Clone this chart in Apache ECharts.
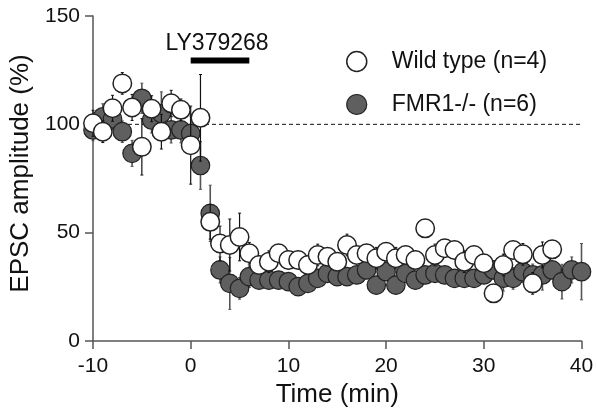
<!DOCTYPE html>
<html>
<head>
<meta charset="utf-8">
<script src="https://cdn.jsdelivr.net/npm/echarts@6/dist/echarts.min.js"></script>
<style>
html,body{margin:0;padding:0;background:#fff;}
#chart{width:597px;height:419px;}
</style>
</head>
<body>
<div id="chart"></div>
<script>
// ---- data ----
var timeMin = [-10,-9,-8,-7,-6,-5,-4,-3,-2,-1,0,1,2,3,4,5,6,7,8,9,10,11,12,13,14,15,16,17,18,19,20,21,22,23,24,25,26,27,28,29,30,31,32,33,34,35,36,37,38,39,40];
var wildType = [100.5,96.6,107.4,118.9,107.8,89.6,107.2,96.6,109.7,106.7,90.4,103,55,45,44.3,48,40.5,35.1,36.6,40.5,37.4,37.4,35.1,39.7,38.9,36.6,44.3,39.7,40.5,38.2,41.2,38.2,39.7,37.4,52,39.7,42.8,42,36.6,39.7,35.9,22,35.1,42,40,26.6,39.7,42.3,null,null,null];
var wildTypeErr = [6,5,6,5,6,13,6,8,6,5,18,20,8,8,12,11,5,4,5,4,4,4,4,5,4,4,5,4,4,5,4,5,4,4,4,5,4,4,5,4,4,4,5,4,5,5,6,4,null,null,null];
var fmr1 = [97.4,103.5,102.5,96.6,86.6,112,102,105,97.4,97.4,95.8,81,58.9,32.8,26.6,24.3,29.7,28.1,28.1,28.1,27.4,25.1,26.6,28.9,31.2,29.7,29.7,30.5,32.8,25.8,32,25.8,31.2,28.1,30.5,31.2,30.5,28.9,28.9,28.9,30.5,32.8,29,28.9,32,30.5,30.5,32.8,27.4,32.8,32];
var fmr1Err = [5,6,5,5,6,7,6,10,6,6,8,11,13,6,12,5,5,4,4,4,4,4,4,4,4,4,4,4,4,4,4,4,4,4,4,4,4,4,4,4,4,4,6,5,5,5,7,4,8,6,13];
var xTicks = {min: -10, max: 40, interval: 10};
var yTicks = {min: 0, max: 150, interval: 50};
var baselineLevel = 100;
var drugName = 'LY379268';
var drugStart = 0, drugEnd = 6, drugLevel = 129.5;
var seriesNames = ['Wild type (n=4)', 'FMR1-/- (n=6)'];

function pairs(vals){
  var out = [];
  for (var i = 0; i < timeMin.length; i++) if (vals[i] != null) out.push([timeMin[i], vals[i]]);
  return out;
}
function errPairs(vals, errs){
  var out = [];
  for (var i = 0; i < timeMin.length; i++) if (vals[i] != null) out.push([timeMin[i], vals[i] - errs[i], vals[i] + errs[i]]);
  return out;
}
function errRender(color, width){
  return function(params, api){
    var x = api.value(0);
    var lo = api.coord([x, api.value(1)]);
    var hi = api.coord([x, api.value(2)]);
    var c = 1.5;
    return {type:'group', children:[
      {type:'line', shape:{x1:lo[0], y1:lo[1], x2:hi[0], y2:hi[1]}, style:{stroke:color, lineWidth:width}},
      {type:'line', shape:{x1:hi[0]-c, y1:hi[1], x2:hi[0]+c, y2:hi[1]}, style:{stroke:color, lineWidth:1}},
      {type:'line', shape:{x1:lo[0]-c, y1:lo[1], x2:lo[0]+c, y2:lo[1]}, style:{stroke:color, lineWidth:1}}
    ]};
  };
}

var font = '"Liberation Sans", Arial, sans-serif';
var chart = echarts.init(document.getElementById('chart'), null, {renderer:'canvas'});
chart.setOption({
  animation: false,
  backgroundColor: '#fff',
  grid: {left: 93, right: 15.5, top: 16, bottom: 78, containLabel: false},
  legend: {
    orient: 'vertical', left: 341, top: 45,
    itemWidth: 20, itemHeight: 20, itemGap: 20,
    data: [
      {name: seriesNames[0], icon: 'circle', itemStyle: {color: '#fff', borderColor: '#222', borderWidth: 1.5}},
      {name: seriesNames[1], icon: 'circle', itemStyle: {color: '#5f5f5f', borderColor: '#222', borderWidth: 1.2}}
    ],
    textStyle: {fontFamily: font, fontSize: 23, color: '#111', lineHeight: 20, padding: [0,0,0,20]}
  },
  xAxis: {
    type: 'value', min: xTicks.min, max: xTicks.max, interval: xTicks.interval,
    name: 'Time (min)', nameLocation: 'middle', nameGap: 41,
    nameTextStyle: {fontFamily: font, fontSize: 26, color: '#111'},
    axisLine: {onZero: false, lineStyle: {color: '#555', width: 1.5}},
    axisTick: {length: 8, lineStyle: {color: '#555', width: 1.5}},
    axisLabel: {fontFamily: font, fontSize: 21, color: '#111', margin: 15},
    splitLine: {show: false}
  },
  yAxis: {
    type: 'value', min: yTicks.min, max: yTicks.max, interval: yTicks.interval,
    name: 'EPSC amplitude (%)', nameLocation: 'middle', nameGap: 53,
    nameTextStyle: {fontFamily: font, fontSize: 26, color: '#111', padding: [0, 0, 0, 10]},
    axisLine: {show: true, onZero: false, lineStyle: {color: '#555', width: 1.5}},
    axisTick: {show: true, length: 8, lineStyle: {color: '#555', width: 1.5}},
    axisLabel: {fontFamily: font, fontSize: 21, color: '#111', margin: 13},
    splitLine: {show: false}
  },
  series: [
    {
      type: 'line', name: 'baseline', data: [[xTicks.min, baselineLevel], [xTicks.max, baselineLevel]],
      symbol: 'none', z: 1, silent: true,
      lineStyle: {color: '#111', width: 1, type: [4, 3]}
    },
    {
      type: 'custom', name: 'drug', z: 6,
      data: [[drugStart, drugEnd, drugLevel]],
      renderItem: function(params, api){
        var a = api.coord([api.value(0), api.value(2)]);
        var b = api.coord([api.value(1), api.value(2)]);
        return {type:'group', children:[
          {type:'rect', shape:{x:a[0], y:a[1]-3, width:b[0]-a[0], height:6}, style:{fill:'#000'}},
          {type:'text', style:{text: drugName, x:(a[0]+b[0])/2 - 3, y:a[1]-17, align:'center', verticalAlign:'middle', font:'23px ' + font, fill:'#111'}}
        ]};
      }
    },
    {type:'custom', name:'fmrErr', z:2, data: errPairs(fmr1, fmr1Err), renderItem: errRender('#555', 1.6)},
    {
      type: 'scatter', name: seriesNames[1], data: pairs(fmr1), z: 3,
      symbol: 'circle', symbolSize: 18.5,
      itemStyle: {color: '#5f5f5f', borderColor: '#222', borderWidth: 1.2, opacity: 1}
    },
    {type:'custom', name:'wtErr', z:4, data: errPairs(wildType, wildTypeErr), renderItem: errRender('#111', 1.2)},
    {
      type: 'scatter', name: seriesNames[0], data: pairs(wildType), z: 5,
      symbol: 'circle', symbolSize: 18.5,
      itemStyle: {color: '#fff', borderColor: '#222', borderWidth: 1.5, opacity: 1}
    }
  ]
});
</script>
</body>
</html>
